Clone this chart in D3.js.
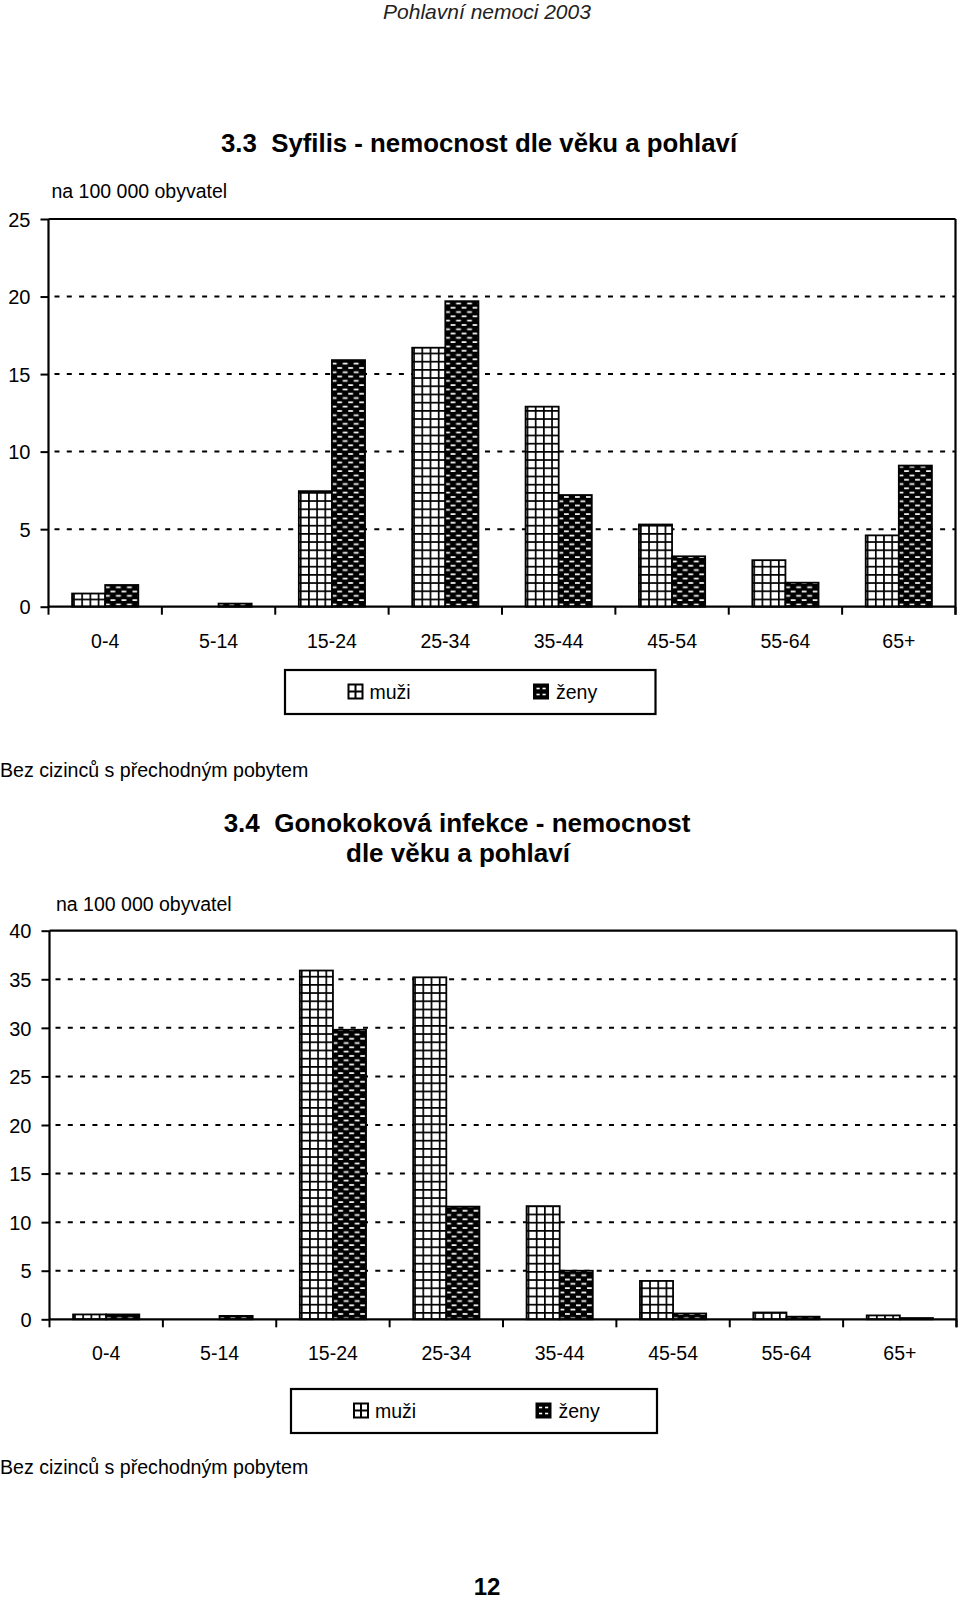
<!DOCTYPE html>
<html>
<head>
<meta charset="utf-8">
<script src="https://cdn.jsdelivr.net/npm/d3@7"></script>
<style>
  html, body { margin: 0; padding: 0; background: #fff; }
  svg { display: block; font-family: "Liberation Sans", Arial, Helvetica, sans-serif; }
  .pre { white-space: pre; }
</style>
</head>
<body>
<svg id="page" width="960" height="1603"></svg>
<script>
// ---------- DATA ----------
const categories = ["0-4", "5-14", "15-24", "25-34", "35-44", "45-54", "55-64", "65+"];
const seriesNames = ["muži", "ženy"];

// 3.3 Syfilis (na 100 000 obyvatel)
const syfilisMuzi = [0.85, 0, 7.45, 16.7, 12.9, 5.3, 3.0, 4.6];
const syfilisZeny = [1.4, 0.2, 15.9, 19.7, 7.2, 3.25, 1.55, 9.1];
const syfilisTicks = [0, 5, 10, 15, 20, 25];

// 3.4 Gonokoková infekce (na 100 000 obyvatel)
const gonoMuzi = [0.5, 0, 35.9, 35.2, 11.65, 3.95, 0.7, 0.4];
const gonoZeny = [0.5, 0.35, 29.8, 11.6, 5.0, 0.6, 0.27, 0.13];
const gonoTicks = [0, 5, 10, 15, 20, 25, 30, 35, 40];

const headerText = "Pohlavní nemoci 2003";
const title1 = "3.3  Syfilis - nemocnost dle věku a pohlaví";
const title2a = "3.4  Gonokoková infekce - nemocnost";
const title2b = "dle věku a pohlaví";
const unitText = "na 100 000 obyvatel";
const noteText = "Bez cizinců s přechodným pobytem";
const pageNo = "12";

// ---------- DRAW ----------
const svg = d3.select("#page");
const defs = svg.append("defs");

// muži: white with black grid
const pm = defs.append("pattern").attr("id", "patMuzi")
  .attr("patternUnits", "userSpaceOnUse").attr("width", 8.2).attr("height", 8.2);
pm.append("rect").attr("width", 8.2).attr("height", 8.2).attr("fill", "#fff");
pm.append("rect").attr("x", 0).attr("y", 0).attr("width", 1.7).attr("height", 8.2).attr("fill", "#000");
pm.append("rect").attr("x", 0).attr("y", 0).attr("width", 8.2).attr("height", 1.7).attr("fill", "#000");

// ženy: black with staggered white dashes
const pz = defs.append("pattern").attr("id", "patZeny")
  .attr("patternUnits", "userSpaceOnUse").attr("width", 11).attr("height", 8.6);
pz.append("rect").attr("width", 11).attr("height", 8.6).attr("fill", "#000");
[[1.5, 1.6], [7, 5.9], [-4, 5.9]].forEach(([x, y]) => {
  pz.append("rect").attr("x", x).attr("y", y).attr("width", 4.8).attr("height", 1.7).attr("fill", "#fff");
});

const fills = { "muži": "url(#patMuzi)", "ženy": "url(#patZeny)" };

// header
svg.append("text").attr("x", 487).attr("y", 19).attr("text-anchor", "middle")
  .attr("font-size", 21).attr("font-style", "italic").attr("fill", "#222").text(headerText);

function drawChart(cfg) {
  const g = svg.append("g");
  const x = d3.scaleBand().domain(categories).range([cfg.left, cfg.right]).padding(0);
  const bw = x.bandwidth();
  const x1 = d3.scaleBand().domain(seriesNames).range([bw * 0.208, bw * 0.792]).padding(0);
  const y = d3.scaleLinear().domain([0, cfg.max]).range([cfg.bottom, cfg.top]);

  // dashed gridlines
  g.append("g").selectAll("line").data(cfg.ticks.filter(t => t > 0 && t < cfg.max)).join("line")
    .attr("x1", cfg.left + 6).attr("x2", cfg.right)
    .attr("y1", d => y(d)).attr("y2", d => y(d))
    .attr("stroke", "#000").attr("stroke-width", 2).attr("stroke-dasharray", "5,7.3");

  // top and right border
  g.append("line").attr("x1", cfg.left).attr("x2", cfg.right).attr("y1", y(cfg.max)).attr("y2", y(cfg.max))
    .attr("stroke", "#000").attr("stroke-width", 2.2);
  g.append("line").attr("x1", cfg.right).attr("x2", cfg.right).attr("y1", y(cfg.max)).attr("y2", cfg.bottom + 8)
    .attr("stroke", "#000").attr("stroke-width", 2.2);

  // bars
  const rows = categories.map((c, i) => ({ c, vals: [cfg.muzi[i], cfg.zeny[i]] }));
  g.append("g").selectAll("g").data(rows).join("g")
    .attr("transform", d => `translate(${x(d.c)},0)`)
    .selectAll("rect").data(d => d.vals.map((v, j) => ({ s: seriesNames[j], v })).filter(e => e.v > 0))
    .join("rect")
      .attr("x", d => x1(d.s)).attr("width", x1.bandwidth())
      .attr("y", d => y(d.v)).attr("height", d => y(0) - y(d.v))
      .attr("fill", d => fills[d.s]).attr("stroke", "#000").attr("stroke-width", 1.8);

  // y axis
  const ya = g.append("g").attr("transform", `translate(${cfg.left},0)`)
    .call(d3.axisLeft(y).tickValues(cfg.ticks).tickSize(8).tickPadding(10).tickFormat(d3.format("d")));
  ya.select(".domain").attr("stroke-width", 2.2).attr("d", `M0,${y(cfg.max)}V${cfg.bottom}`);
  ya.selectAll(".tick line").attr("stroke-width", 2);
  ya.selectAll(".tick text").attr("font-size", 20).attr("font-family", "Liberation Sans, Arial, sans-serif")
    .attr("fill", "#000").attr("dy", "0.36em");

  // x axis: labels centered, ticks at boundaries
  const xa = g.append("g").attr("transform", `translate(0,${cfg.bottom})`)
    .call(d3.axisBottom(x).tickSize(0).tickPadding(cfg.labelPad));
  xa.select(".domain").attr("stroke-width", 2.2).attr("d", `M${cfg.left},0H${cfg.right}`);
  xa.selectAll(".tick text").attr("font-size", 19.5).attr("font-family", "Liberation Sans, Arial, sans-serif")
    .attr("fill", "#000");
  const bounds = categories.map(c => x(c)).concat([x.range()[1]]);
  g.append("g").selectAll("line").data(bounds).join("line")
    .attr("x1", d => d).attr("x2", d => d).attr("y1", cfg.bottom).attr("y2", cfg.bottom + 8)
    .attr("stroke", "#000").attr("stroke-width", 2);

  // unit label
  svg.append("text").attr("x", cfg.unitX).attr("y", cfg.unitY).attr("font-size", 19.5).text(unitText);

  // legend
  const L = cfg.legend;
  svg.append("rect").attr("x", L.x).attr("y", L.y).attr("width", L.w).attr("height", L.h)
    .attr("fill", "#fff").attr("stroke", "#000").attr("stroke-width", 2.2);
  const s = 14;
  // muži icon
  const mi = svg.append("g").attr("transform", `translate(${L.mx},${L.iy})`);
  mi.append("rect").attr("width", s).attr("height", s).attr("fill", "#fff").attr("stroke", "#000").attr("stroke-width", 2);
  mi.append("line").attr("x1", s / 2).attr("x2", s / 2).attr("y1", 0).attr("y2", s).attr("stroke", "#000").attr("stroke-width", 2);
  mi.append("line").attr("x1", 0).attr("x2", s).attr("y1", s / 2).attr("y2", s / 2).attr("stroke", "#000").attr("stroke-width", 2);
  svg.append("text").attr("x", L.mx + 21).attr("y", L.ty).attr("font-size", 19.5).text(seriesNames[0]);
  // ženy icon
  const zi = svg.append("g").attr("transform", `translate(${L.zx},${L.iy})`);
  zi.append("rect").attr("width", s).attr("height", s).attr("fill", "#000").attr("stroke", "#000").attr("stroke-width", 2);
  [[2.5, 3.2], [8.5, 3.2], [2.5, 9.2], [8.5, 9.2]].forEach(([a, b]) =>
    zi.append("rect").attr("x", a).attr("y", b).attr("width", 3.2).attr("height", 1.6).attr("fill", "#fff"));
  svg.append("text").attr("x", L.zx + 22).attr("y", L.ty).attr("font-size", 19.5).text(seriesNames[1]);

  // note
  svg.append("text").attr("x", 0).attr("y", cfg.noteY).attr("font-size", 19.6).text(noteText);
}

// chart 1 title
svg.append("text").attr("class", "pre").attr("x", 221).attr("y", 151.5)
  .attr("font-size", 25.8).attr("font-weight", "bold").text(title1);

drawChart({
  left: 48.5, right: 955.5, top: 219, bottom: 606.7, max: 25, ticks: syfilisTicks,
  muzi: syfilisMuzi, zeny: syfilisZeny, labelPad: 27,
  unitX: 51.5, unitY: 198,
  legend: { x: 285, y: 670, w: 370.5, h: 44, mx: 348.5, zx: 534, iy: 684.5, ty: 699 },
  noteY: 777
});

// chart 2 title
svg.append("text").attr("class", "pre").attr("x", 457).attr("y", 831.5).attr("text-anchor", "middle")
  .attr("font-size", 26).attr("font-weight", "bold").text(title2a);
svg.append("text").attr("class", "pre").attr("x", 458).attr("y", 861.5).attr("text-anchor", "middle")
  .attr("font-size", 26).attr("font-weight", "bold").text(title2b);

drawChart({
  left: 49.5, right: 956.5, top: 930.7, bottom: 1319.3, max: 40, ticks: gonoTicks,
  muzi: gonoMuzi, zeny: gonoZeny, labelPad: 27,
  unitX: 56, unitY: 911,
  legend: { x: 291, y: 1389, w: 366, h: 44, mx: 354, zx: 536.5, iy: 1403.5, ty: 1418 },
  noteY: 1474
});

// page number
svg.append("text").attr("x", 487).attr("y", 1595).attr("text-anchor", "middle")
  .attr("font-size", 24).attr("font-weight", "bold").text(pageNo);
</script>
</body>
</html>
